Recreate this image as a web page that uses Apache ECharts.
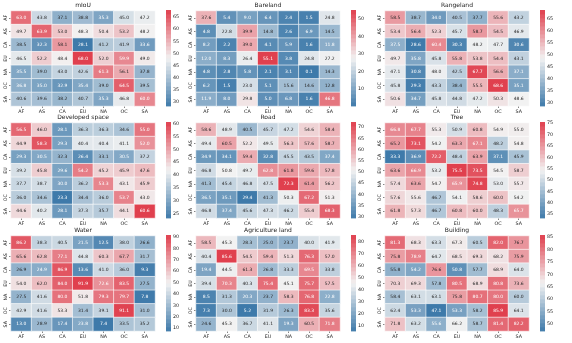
<!DOCTYPE html>
<html>
<head>
<meta charset="utf-8">
<script src="https://cdn.jsdelivr.net/npm/echarts@6/dist/echarts.min.js"></script>
<style>html,body{margin:0;padding:0;background:#fff}#main{width:572px;height:343px}</style>
</head>
<body>
<div id="main"></div>
<script>
var regions = ['AF', 'AS', 'CA', 'EU', 'NA', 'OC', 'SA'];

// rows = train region, cols = test region
var miou = [
    [63.0, 43.8, 37.1, 38.8, 35.3, 45.0, 47.2],
    [49.7, 63.9, 53.0, 48.3, 50.4, 53.2, 48.2],
    [38.5, 32.3, 58.1, 28.1, 41.2, 41.9, 33.6],
    [46.5, 52.2, 48.4, 68.0, 52.0, 59.9, 49.0],
    [35.5, 39.0, 43.0, 42.6, 61.3, 56.1, 37.8],
    [36.8, 35.0, 32.9, 35.4, 39.0, 64.5, 39.5],
    [40.6, 39.6, 38.2, 40.7, 35.3, 46.8, 60.0]
];
var bareland = [
    [37.6, 5.4, 9.0, 6.4, 2.4, 1.5, 24.8],
    [4.8, 22.8, 39.9, 14.8, 2.6, 6.9, 14.5],
    [8.2, 2.2, 39.0, 4.1, 5.9, 1.6, 11.8],
    [12.0, 8.3, 26.4, 55.1, 3.8, 24.8, 27.2],
    [4.8, 2.8, 5.8, 2.1, 3.1, 0.1, 14.3],
    [6.2, 1.5, 23.0, 5.1, 15.6, 14.6, 12.8],
    [11.9, 8.0, 29.8, 5.0, 6.8, 1.6, 46.8]
];
var rangeland = [
    [58.5, 38.7, 34.0, 40.5, 37.7, 55.6, 43.2],
    [53.4, 56.4, 52.3, 45.7, 58.7, 54.5, 46.9],
    [37.5, 28.6, 60.4, 30.3, 48.2, 47.7, 30.6],
    [49.7, 35.8, 45.8, 55.8, 53.8, 54.4, 43.1],
    [47.1, 30.8, 48.0, 42.5, 67.7, 56.6, 37.1],
    [45.8, 29.3, 43.3, 38.4, 55.5, 68.6, 35.1],
    [50.6, 34.7, 45.8, 44.8, 47.2, 50.3, 48.6]
];
var developed = [
    [56.5, 46.0, 28.1, 36.3, 36.3, 34.6, 55.0],
    [44.9, 58.3, 29.3, 40.4, 40.4, 41.1, 52.0],
    [29.3, 30.5, 32.3, 26.4, 33.1, 30.5, 37.2],
    [39.2, 45.8, 29.6, 54.2, 45.2, 45.9, 47.6],
    [37.7, 38.7, 30.0, 36.2, 53.3, 43.1, 45.9],
    [36.0, 34.6, 23.3, 34.4, 36.0, 53.7, 43.0],
    [44.6, 40.2, 28.1, 37.3, 35.7, 44.1, 60.6]
];
var road = [
    [58.6, 48.9, 40.5, 45.7, 47.2, 54.6, 58.4],
    [49.4, 60.5, 52.2, 49.5, 56.3, 57.6, 58.7],
    [34.9, 34.1, 59.4, 32.8, 45.5, 43.5, 37.4],
    [46.8, 50.8, 49.7, 62.8, 61.8, 59.6, 57.8],
    [41.3, 45.4, 46.8, 47.5, 72.3, 61.4, 56.2],
    [36.5, 35.1, 29.4, 41.3, 50.3, 67.2, 51.3],
    [46.8, 37.4, 45.6, 47.3, 46.2, 55.4, 68.3]
];
var tree = [
    [66.8, 67.7, 55.3, 50.9, 60.8, 54.9, 55.0],
    [65.2, 73.1, 54.2, 63.3, 67.1, 48.2, 54.8],
    [33.3, 36.9, 72.2, 48.4, 63.9, 37.1, 45.9],
    [63.6, 66.9, 53.2, 75.5, 73.5, 54.5, 58.7],
    [57.4, 63.6, 54.7, 65.9, 74.8, 53.0, 55.7],
    [57.6, 55.6, 46.7, 54.1, 58.6, 60.0, 54.2],
    [61.8, 57.3, 46.7, 60.8, 60.0, 48.3, 65.7]
];
var water = [
    [86.2, 38.3, 40.5, 21.5, 12.5, 38.0, 26.6],
    [65.6, 62.8, 77.1, 44.8, 60.3, 67.7, 31.7],
    [26.9, 24.9, 86.9, 13.6, 41.0, 36.0, 9.3],
    [54.0, 62.0, 84.0, 91.9, 72.6, 83.5, 27.5],
    [27.5, 41.6, 80.0, 51.8, 79.3, 79.7, 7.8],
    [42.9, 41.6, 53.3, 31.4, 39.1, 91.1, 31.0],
    [13.0, 28.9, 17.4, 23.8, 7.4, 33.5, 35.2]
];
var agriculture = [
    [58.5, 45.3, 28.3, 25.0, 23.7, 40.0, 41.9],
    [40.4, 85.6, 54.5, 59.4, 51.3, 76.3, 57.0],
    [19.4, 44.5, 61.3, 26.8, 33.3, 69.5, 33.8],
    [39.4, 70.3, 40.3, 75.4, 45.1, 75.7, 57.5],
    [8.5, 31.3, 20.3, 23.7, 58.3, 76.8, 22.8],
    [7.3, 30.0, 5.2, 31.9, 26.3, 83.3, 35.6],
    [24.6, 45.3, 36.7, 41.1, 19.3, 60.5, 71.8]
];
var building = [
    [81.3, 68.3, 63.3, 67.3, 60.5, 82.0, 76.7],
    [75.8, 78.9, 64.7, 68.5, 69.3, 68.2, 75.9],
    [55.8, 54.2, 76.6, 50.8, 57.7, 68.9, 64.0],
    [70.3, 69.3, 57.8, 80.5, 68.9, 80.8, 73.6],
    [58.4, 63.1, 63.1, 75.8, 80.7, 80.0, 60.0],
    [62.4, 53.3, 47.1, 53.3, 58.2, 85.9, 64.1],
    [71.8, 63.2, 55.6, 66.2, 58.7, 81.4, 82.2]
];

var titles = ['mIoU', 'Bareland', 'Rangeland', 'Developed space', 'Road', 'Tree', 'Water', 'Agriculture land', 'Building'];
var tables = [miou, bareland, rangeland, developed, road, tree, water, agriculture, building];
var cbTicks = [
    [30, 35, 40, 45, 50, 55, 60, 65],
    [0, 10, 20, 30, 40, 50],
    [30, 35, 40, 45, 50, 55, 60, 65],
    [25, 30, 35, 40, 45, 50, 55, 60],
    [30, 35, 40, 45, 50, 55, 60, 65, 70],
    [35, 40, 45, 50, 55, 60, 65, 70, 75],
    [10, 20, 30, 40, 50, 60, 70, 80, 90],
    [10, 20, 30, 40, 50, 60, 70, 80],
    [50, 55, 60, 65, 70, 75, 80, 85]
];

// diverging palette: blue -> light grey -> red
var BLUE = [62, 122, 170], MID = [242, 242, 242], RED = [224, 64, 78];
function mixRgb(t) {
    var a, b, k;
    if (t < 0.5) { a = BLUE; b = MID; k = t * 2; } else { a = MID; b = RED; k = (t - 0.5) * 2; }
    return [0, 1, 2].map(function (i) { return Math.round(a[i] + (b[i] - a[i]) * k); });
}
function toCss(c) { return 'rgb(' + c.join(',') + ')'; }
function textColor(c) {
    var l = c.map(function (v) {
        v = v / 255;
        return v <= 0.03928 ? v / 12.92 : Math.pow((v + 0.055) / 1.055, 2.4);
    });
    var lum = 0.2126 * l[0] + 0.7152 * l[1] + 0.0722 * l[2];
    return lum > 0.408 ? '#262626' : '#ffffff';
}

var FONT = 'DejaVu Sans';
var colLeft = [11, 196, 385], rowTop = [11, 123, 236];
var W = 144, H = 95, CB_OFF = 155, CB_W = 5, BANDS = 24;

var option = {
    animation: false,
    backgroundColor: '#fff',
    title: [], grid: [], xAxis: [], yAxis: [], series: []
};

tables.forEach(function (tbl, i) {
    var left = colLeft[i % 3], top = rowTop[Math.floor(i / 3)];
    var flat = [].concat.apply([], tbl);
    var lo = Math.min.apply(null, flat), hi = Math.max.apply(null, flat);

    option.title.push({
        text: titles[i], left: left + W / 2, top: top - 9, textAlign: 'center', padding: 0,
        textStyle: {fontFamily: FONT, fontSize: 6, fontWeight: 'normal', color: '#222'}
    });

    // heatmap grid
    option.grid.push({left: left, top: top, width: W, height: H});
    option.xAxis.push({
        type: 'category', data: regions, gridIndex: 2 * i,
        axisLine: {show: false}, splitLine: {show: false},
        axisTick: {show: true, alignWithLabel: true, length: 2, lineStyle: {color: '#333', width: 0.6}},
        axisLabel: {fontFamily: FONT, fontSize: 4.8, color: '#222', margin: 3}
    });
    option.yAxis.push({
        type: 'category', data: regions, gridIndex: 2 * i, inverse: true,
        axisLine: {show: false}, splitLine: {show: false},
        axisTick: {show: true, alignWithLabel: true, length: 2, lineStyle: {color: '#333', width: 0.6}},
        axisLabel: {fontFamily: FONT, fontSize: 4.8, color: '#222', margin: 3, rotate: 90}
    });
    var data = [];
    tbl.forEach(function (row, r) {
        row.forEach(function (v, c) {
            var rgb = mixRgb((v - lo) / (hi - lo));
            data.push({
                value: [c, r, v],
                itemStyle: {color: toCss(rgb)},
                label: {color: textColor(rgb)}
            });
        });
    });
    option.series.push({
        type: 'heatmap', xAxisIndex: 2 * i, yAxisIndex: 2 * i, data: data,
        itemStyle: {borderColor: '#fff', borderWidth: 0.6},
        label: {
            show: true, fontFamily: FONT, fontSize: 4.5,
            formatter: function (p) { return p.value[2].toFixed(1); }
        }
    });

    // colorbar grid
    option.grid.push({left: left + CB_OFF, top: top - 1, width: CB_W, height: H + 1});
    option.xAxis.push({type: 'value', gridIndex: 2 * i + 1, min: 0, max: 1, show: false});
    option.yAxis.push({
        type: 'value', gridIndex: 2 * i + 1, min: lo, max: hi, position: 'right',
        axisLine: {show: false}, splitLine: {show: false},
        axisTick: {show: true, length: 2, customValues: cbTicks[i], lineStyle: {color: '#333', width: 0.6}},
        axisLabel: {fontFamily: FONT, fontSize: 4.8, color: '#222', margin: 2, customValues: cbTicks[i]}
    });
    var bands = [];
    for (var k = 0; k < BANDS; k++) {
        bands.push([lo + (hi - lo) * k / BANDS, lo + (hi - lo) * (k + 1) / BANDS, (k + 0.5) / BANDS]);
    }
    option.series.push({
        type: 'custom', xAxisIndex: 2 * i + 1, yAxisIndex: 2 * i + 1, data: bands,
        encode: {y: [0, 1]}, silent: true,
        renderItem: function (params, api) {
            var p0 = api.coord([0, api.value(0)]);
            var p1 = api.coord([1, api.value(1)]);
            return {
                type: 'rect',
                shape: {x: p0[0], y: p1[1], width: p1[0] - p0[0], height: p0[1] - p1[1] + 0.4},
                style: {fill: toCss(mixRgb(api.value(2)))}
            };
        }
    });
});

var chart = echarts.init(document.getElementById('main'));
chart.setOption(option);
</script>
</body>
</html>
